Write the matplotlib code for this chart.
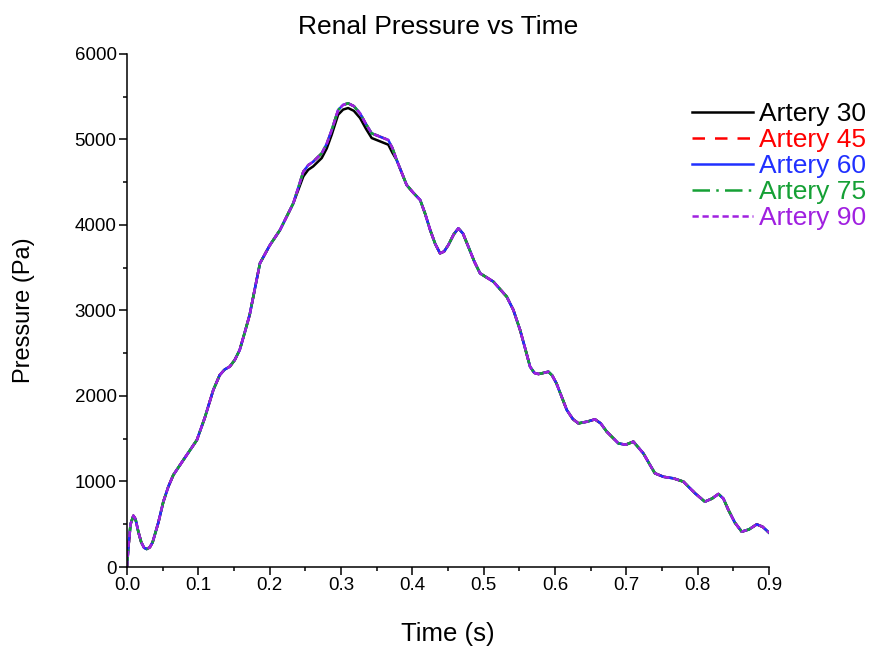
import numpy as np
import matplotlib
matplotlib.use("Agg")
import matplotlib.pyplot as plt
from matplotlib.ticker import MultipleLocator

plt.rcParams['font.family'] = ['Liberation Sans', 'DejaVu Sans']

# time samples (s) and renal pressure (Pa)
time = [0.0, 0.002, 0.005, 0.009, 0.012, 0.016, 0.020, 0.024, 0.0276, 0.032,
        0.036, 0.044, 0.051, 0.058, 0.065, 0.079, 0.098, 0.109, 0.121, 0.130,
        0.137, 0.144, 0.151, 0.158, 0.165, 0.172, 0.1864, 0.200,
        0.2145, 0.2331, 0.2472, 0.254, 0.261, 0.273, 0.280, 0.287, 0.296,
        0.303, 0.310, 0.318, 0.3267, 0.335, 0.343, 0.3547, 0.3663, 0.372,
        0.378, 0.392, 0.401, 0.411, 0.418, 0.425, 0.432, 0.4388, 0.4445,
        0.4505, 0.458, 0.4645, 0.471, 0.4785, 0.487, 0.4949, 0.5136, 0.5323,
        0.5416, 0.551, 0.558, 0.565, 0.571, 0.5767, 0.584, 0.5907, 0.596,
        0.602, 0.6165, 0.625, 0.6328, 0.645, 0.656, 0.664, 0.6725, 0.6888,
        0.699, 0.7098, 0.7238, 0.732, 0.740, 0.752, 0.766, 0.780, 0.7963,
        0.810, 0.820, 0.829, 0.836, 0.843, 0.852, 0.8617, 0.872, 0.8827,
        0.891, 0.9]
pressure = [0, 230, 500, 600, 560, 410, 290, 225, 210, 230,
            290, 520, 764, 940, 1076, 1251, 1485, 1743, 2070, 2245,
            2310, 2343, 2420, 2538, 2740, 2950, 3552, 3760,
            3941, 4253, 4623, 4700, 4740, 4838, 4950, 5111, 5345,
            5405, 5423, 5390, 5306, 5180, 5072, 5033, 4994, 4900,
            4760, 4468, 4380, 4292, 4130, 3941, 3780, 3669, 3690,
            3766, 3890, 3961, 3900, 3746, 3570, 3435, 3337, 3161,
            3006, 2772, 2560, 2343, 2270, 2257, 2270, 2284, 2240,
            2148, 1836, 1730, 1680, 1700, 1727, 1680, 1583, 1446,
            1430, 1466, 1329, 1210, 1096, 1055, 1037, 998, 862,
            764, 800, 854, 800, 667, 520, 413, 440, 499,
            470, 401]
# artery 30 sits slightly lower around the systolic peak
pressure_30 = list(pressure)
for i, t in enumerate(time):
    if 0.245 <= t <= 0.375:
        pressure_30[i] = pressure[i] - 55

labels = ['Artery 30', 'Artery 45', 'Artery 60', 'Artery 75', 'Artery 90']
colors = ['black', 'red', '#2030ff', '#15a035', '#a020e0']
styles = ['-', (0, (5, 4)), '-', (0, (7, 2.5, 1, 2.5)), (0, (2.5, 1.5))]
series = [pressure_30, pressure, pressure, pressure, pressure]

fig = plt.figure(figsize=(8.69, 6.48), dpi=100)
ax = fig.add_axes([0.1461, 0.125, 0.885 - 0.1461, 0.9167 - 0.125])

for lab, col, ls, p in zip(labels, colors, styles, series):
    ax.plot(time, p, color=col, linestyle=ls, linewidth=1.8, label=lab)

ax.set_xlim(0, 0.9)
ax.set_ylim(0, 6000)
ax.xaxis.set_major_locator(MultipleLocator(0.1))
ax.xaxis.set_minor_locator(MultipleLocator(0.05))
ax.yaxis.set_major_locator(MultipleLocator(1000))
ax.yaxis.set_minor_locator(MultipleLocator(500))
ax.xaxis.set_major_formatter(plt.FuncFormatter(lambda v, _: f"{v:.1f}"))

for side in ['top', 'right']:
    ax.spines[side].set_visible(False)
for side in ['left', 'bottom']:
    ax.spines[side].set_linewidth(1.1)
ax.tick_params(which='major', direction='out', length=5.5, width=1.1,
               labelsize=13.5, pad=2)
ax.tick_params(which='minor', direction='out', length=3, width=1.1)

ax.set_xlabel('Time (s)', fontsize=18.5)
ax.xaxis.set_label_coords(0.5, -0.108)
ax.set_ylabel('Pressure (Pa)', fontsize=17)
ax.yaxis.set_label_coords(-0.143, 0.5)
fig.text(0.504, 0.958, 'Renal Pressure vs Time', ha='center', va='center',
         fontsize=19)

leg = ax.legend(loc='upper right', bbox_to_anchor=(1.012, 0.863),
                bbox_transform=fig.transFigure, frameon=False, borderpad=0,
                fontsize=19, handlelength=2.3, handletextpad=0.25,
                labelspacing=0.075)
for txt, col in zip(leg.get_texts(), colors):
    txt.set_color(col)

fig.savefig('out.png', dpi=100)
